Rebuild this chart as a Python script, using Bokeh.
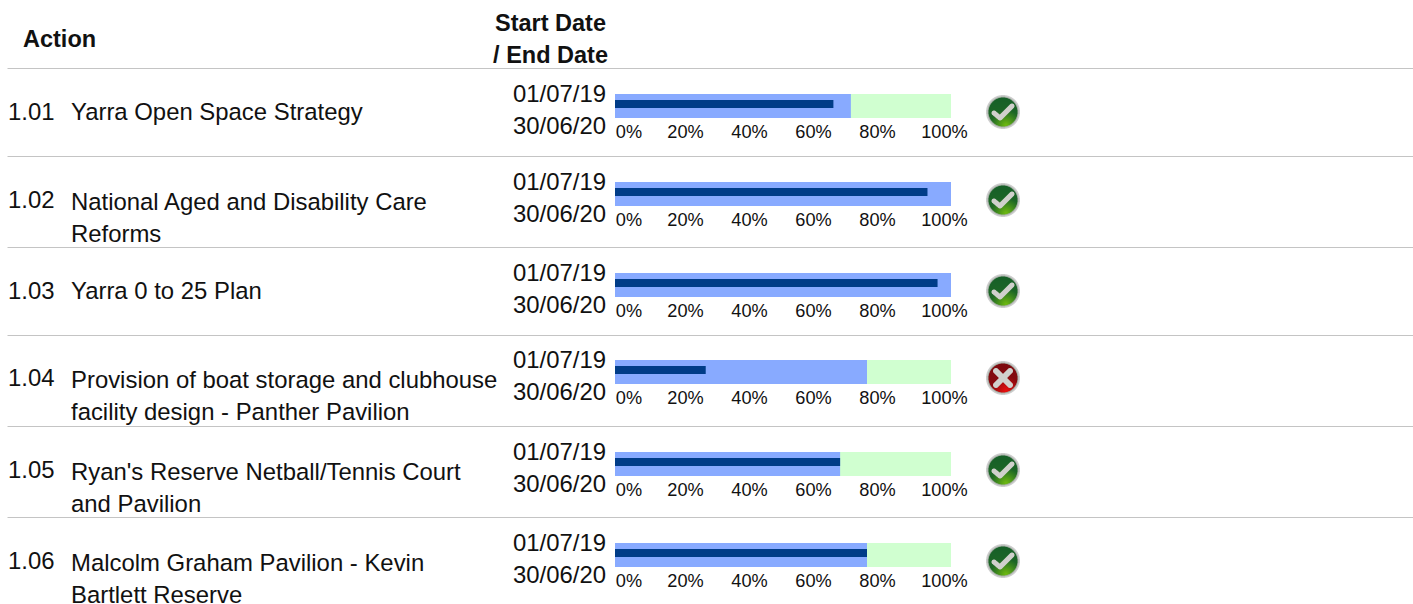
import numpy as np
from bokeh.embed import file_html
from bokeh.resources import INLINE
from bokeh.plotting import figure
from bokeh.models import Range1d
from bokeh.core.properties import value

# ---- data ----
codes = ["1.01", "1.02", "1.03", "1.04", "1.05", "1.06"]
actions = [
    ["Yarra Open Space Strategy"],
    ["National Aged and Disability Care", "Reforms"],
    ["Yarra 0 to 25 Plan"],
    ["Provision of boat storage and clubhouse", "facility design - Panther Pavilion"],
    ["Ryan's Reserve Netball/Tennis Court", "and Pavilion"],
    ["Malcolm Graham Pavilion - Kevin", "Bartlett Reserve"],
]
start_dates = ["01/07/19"] * 6
end_dates = ["30/06/20"] * 6
actual = [65, 93, 96, 27, 67, 75]
target = [70.2, 100, 100, 75, 67, 75]
on_track = [True, True, True, False, True, True]
tick_values = [0, 20, 40, 60, 80, 100]
tick_labels = ["0%", "20%", "40%", "60%", "80%", "100%"]

# ---- layout (page pixels) ----
W, H = 1413, 604
sep_y = [68, 156, 247, 335, 426, 517]
row_top = [94, 182, 273, 360, 452, 543]
BAR_H, DARK_H = 24, 8
X0, X100 = 614.5, 950.5
FONT = value("Liberation Sans")
BODY = "23.9px"

p = figure(width=W, height=H, x_range=Range1d(0, W), y_range=Range1d(H, 0),
           output_backend="svg", toolbar_location=None, min_border=0,
           outline_line_color=None, border_fill_color="white", background_fill_color="white")
p.axis.visible = False
p.grid.visible = False
ppp = (X100 - X0) / 100
p.extra_x_ranges["pct"] = Range1d(-X0 / ppp, (W - X0) / ppp)
# the labels of the axis sit on a slightly narrower scale than the bars
lab0, lab100 = 621.0, 941.0
lpp = (lab100 - lab0) / 100
p.extra_x_ranges["lab"] = Range1d(-lab0 / lpp, (W - lab0) / lpp)

# separators
p.segment(x0=[7] * 6, x1=[W] * 6, y0=sep_y, y1=sep_y, line_color="#c4c4c4", line_width=1)

# bars
top = np.array(row_top, float) - 0.5
p.hbar(y=top + BAR_H / 2, height=BAR_H, left=0, right=100, x_range_name="pct",
       fill_color="#d0ffd0", line_color=None)
p.hbar(y=top + BAR_H / 2, height=BAR_H, left=0, right=target, x_range_name="pct",
       fill_color="#88aaff", line_color=None)
p.hbar(y=top + 10, height=DARK_H, left=0, right=actual, x_range_name="pct",
       fill_color="#003c88", line_color=None)


def text(x, y, t, size=BODY, style="normal", align="left", **kw):
    p.text(x=x, y=y, text=t, text_font=FONT, text_font_size=size, text_font_style=style,
           text_align=align, text_baseline="alphabetic", text_color="#111111", **kw)


# header
text([22.5], [38.5], ["Action"], size="23.5px", style="bold")
text([605.5], [22.5], ["Start Date"], size="23.5px", style="bold", align="right")
text([607.5], [54.5], ["/ End Date"], size="23.5px", style="bold", align="right")

# rows
for i in range(6):
    t = row_top[i]
    text([7.5], [t + 17], [codes[i]])
    for j, line in enumerate(actions[i]):
        text([70.5], [t + 17 + (2 if len(actions[i]) > 1 else 0) + 32 * j], [line])
    text([605.5], [t - 1], [start_dates[i]], align="right")
    text([605.5], [t + 30.5], [end_dates[i]], align="right")
    offs = [7.5, 0, 0, 0, 0, 3]
    p.text(x=tick_values, y=[t + 37] * 6, text=tick_labels, x_range_name="lab", x_offset=offs,
           text_font=FONT, text_font_size="18.2px", text_align="center", text_baseline="alphabetic",
           text_color="#111111")


# status icons rendered through the library's image glyph
def icon(ok, n=36, ss=4):
    g = (np.arange(n * ss) + .5) / ss - n / 2
    X, Y = np.meshgrid(g, g)
    R = np.hypot(X, Y)
    t = np.clip((Y + 15) / 30, 0, 1)
    if ok:
        dark, light = np.array([22, 95, 40.]), np.array([100, 175, 20.])
    else:
        dark, light = np.array([125, 10, 15.]), np.array([220, 15, 15.])
    glow = np.clip(1 - np.hypot(X - 3, Y - 13) / 15, 0, 1)[..., None]
    rgb = dark + (light - dark) * (0.15 * t[..., None] + glow)
    ring = (R > 14.5) & (R <= 17)
    rgb[ring] = np.array([165, 175, 165.])
    rgb[(R > 15.5) & (R <= 17)] = np.array([205, 205, 205.])

    def seg(ax, ay, bx, by, w):
        dx, dy = bx - ax, by - ay
        u = np.clip(((X - ax) * dx + (Y - ay) * dy) / (dx * dx + dy * dy), 0, 1)
        return np.hypot(X - ax - u * dx, Y - ay - u * dy) < w
    if ok:
        m = seg(-9, 1, -3, 6, 2.5) | seg(-3, 6, 9, -6, 2.5)
    else:
        m = seg(-7, -7, 7, 7, 3) | seg(-7, 7, 7, -7, 3)
    rgb[m] = np.array([208, 208, 204.])
    alpha = (R <= 17).astype(float)
    rgba = np.dstack([rgb, alpha * 255]).astype(float)
    rgba = rgba.reshape(n, ss, n, ss, 4)
    a = rgba[..., 3].mean(axis=(1, 3))
    c = (rgba[..., :3] * rgba[..., 3:]).mean(axis=(1, 3)) / np.maximum(a[..., None], 1e-3)
    return np.dstack([np.clip(c, 0, 255), a]).astype(np.uint8)


for i, ok in enumerate(on_track):
    arr = icon(ok)
    img = np.zeros(arr.shape[:2], dtype=np.uint32)
    view = img.view(dtype=np.uint8).reshape((*arr.shape[:2], 4))
    view[:] = arr
    cy = row_top[i] + 17.5
    p.image_rgba(image=[img], x=1002.5 - 18, y=cy - 18, dw=36, dh=36)

open("out.html", "w").write(file_html(p, INLINE))
